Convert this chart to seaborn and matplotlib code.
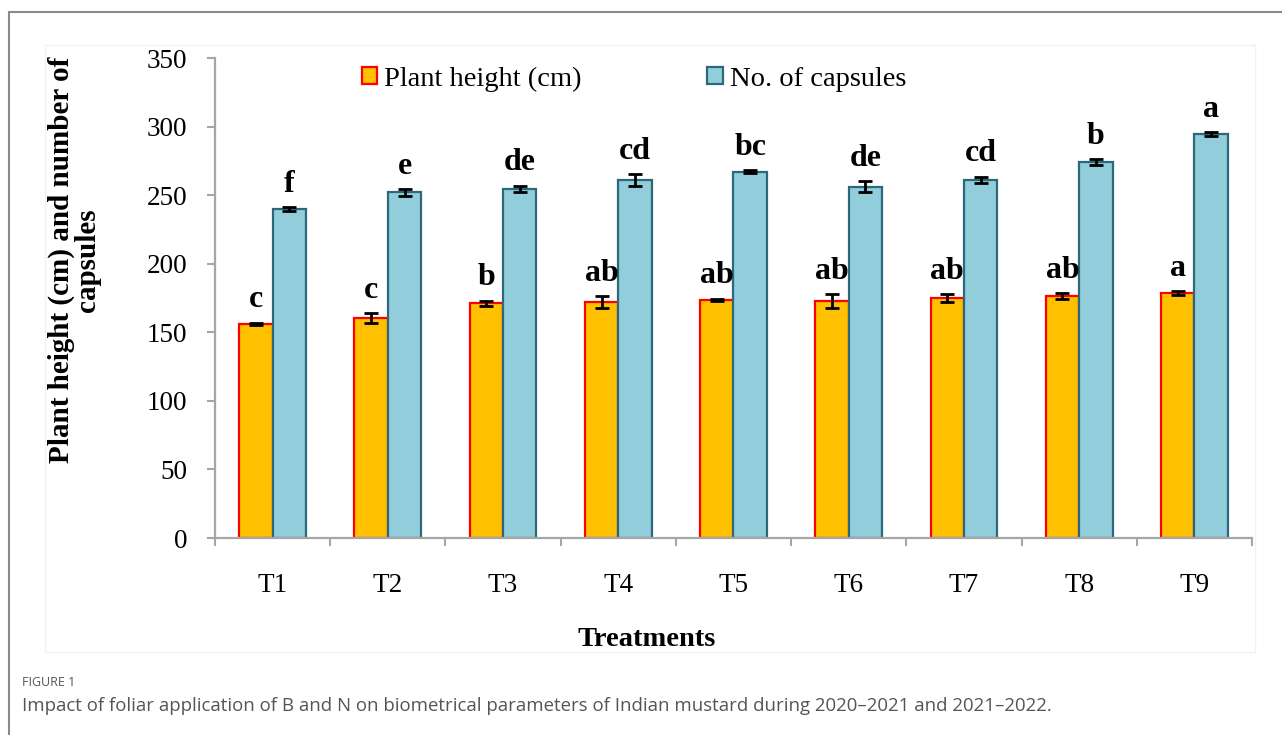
import seaborn as sns
import matplotlib.pyplot as plt
import pandas as pd
import numpy as np
from matplotlib.patches import Patch, Rectangle
from matplotlib.lines import Line2D

# data
treatments = ["T1", "T2", "T3", "T4", "T5", "T6", "T7", "T8", "T9"]
plant_height = [156, 160.5, 171, 172, 173.5, 173, 175, 176.5, 178.5]
height_se = [1.0, 3.5, 2.0, 4.5, 1.0, 5.0, 3.0, 2.0, 1.5]
capsules = [240, 252, 254.5, 261, 267, 256, 261, 274, 294.5]
capsules_se = [1.5, 2.5, 2.5, 4.5, 1.0, 4.0, 2.5, 2.0, 1.5]
height_letters = ["c", "c", "b", "ab", "ab", "ab", "ab", "ab", "a"]
capsule_letters = ["f", "e", "de", "cd", "bc", "de", "cd", "b", "a"]
series = ["Plant height (cm)", "No. of capsules"]

df = pd.DataFrame({
    "Treatment": treatments * 2,
    "Parameter": [series[0]] * 9 + [series[1]] * 9,
    "Value": plant_height + capsules,
})

sns.set_theme(style="white")
plt.rcParams['font.family'] = ['Liberation Serif', 'DejaVu Serif']
plt.rcParams['text.color'] = 'black'
plt.rcParams['xtick.labelcolor'] = 'black'
plt.rcParams['ytick.labelcolor'] = 'black'

fill = ["#FFC000", "#92CDDC"]
edge = ["#FF0000", "#2C6878"]

fig = plt.figure(figsize=(12.82, 7.35), dpi=100)
ax = fig.add_axes([215/1282, 1-538/735, (1252-215)/1282, (538-58)/735])

sns.barplot(data=df, x="Treatment", y="Value", hue="Parameter", palette=fill,
            width=0.58, errorbar=None, saturation=1, ax=ax)

errs = [height_se, capsules_se]
letters = [height_letters, capsule_letters]
vals = [plant_height, capsules]
bar_groups = list(ax.containers)
for i, cont in enumerate(bar_groups):
    xs = []
    for p in cont.patches:
        p.set_edgecolor(edge[i])
        p.set_linewidth(1.6)
        xs.append(p.get_x() + p.get_width() / 2)
    ax.errorbar(xs, vals[i], yerr=errs[i], fmt="none", ecolor="black",
                elinewidth=2, capsize=5, capthick=2, zorder=5)
    for x, v, e, t in zip(xs, vals[i], errs[i], letters[i]):
        ax.annotate(t, xy=(x, v + e), xytext=(0, 11), textcoords="offset points",
                    ha="center", va="baseline", fontsize=23, fontweight="bold",
                    color="black")

ax.set_ylim(0, 350)
ax.set_xlim(-0.5, 8.5)
ax.set_yticks(range(0, 351, 50))
ax.set_xticks(np.arange(-0.5, 9, 1), minor=True)
ax.set_xlabel("")
ax.set_ylabel("")
for s in ["top", "right"]:
    ax.spines[s].set_visible(False)
for s in ["left", "bottom"]:
    ax.spines[s].set_color("#A6A6A6")
    ax.spines[s].set_linewidth(1.6)
ax.tick_params(axis="y", which="major", left=True, length=6, width=1.5,
               color="#A6A6A6", labelsize=19.5, pad=14, labelcolor="black")
ax.tick_params(axis="x", which="major", bottom=False, labelsize=19.5, pad=19,
               labelcolor="black")
ax.tick_params(axis="x", which="minor", bottom=True, length=6, width=1.5,
               color="#A6A6A6")

ax.legend(handles=[Patch(facecolor=fill[0], edgecolor=edge[0], linewidth=1.6),
                   Patch(facecolor=fill[1], edgecolor=edge[1], linewidth=1.6)],
          labels=series, loc="upper center", bbox_to_anchor=(0.404, 1.035),
          ncol=2, frameon=False, fontsize=20.5, handlelength=0.55,
          handleheight=0.55, handletextpad=0.25, columnspacing=4.4,
          labelcolor="black")

fig.text(74/1282, 1-260/735, "Plant height (cm) and number of\ncapsules",
         rotation=90, ha="center", va="center", fontsize=21,
         fontweight="bold", linespacing=0.95, color="black")
fig.text(647/1282, 1-640/735, "Treatments", ha="center", va="center",
         fontsize=20.5, fontweight="bold", color="black")

# faint chart area box and outer frame
fig.patches.append(Rectangle((45/1282, 1-652/735), 1210/1282, 607/735,
                             transform=fig.transFigure, fill=False,
                             edgecolor="#F2F2F2", linewidth=1, zorder=0))
fig.lines.append(Line2D([9/1282, 9/1282], [0, 1-12/735], transform=fig.transFigure,
                        color="#8A8A8A", linewidth=1.5))
fig.lines.append(Line2D([9/1282, 1], [1-12/735, 1-12/735], transform=fig.transFigure,
                        color="#8A8A8A", linewidth=1.5))

fig.text(22/1282, 1-683/735, "FIGURE 1", ha="left", va="center", fontsize=9,
         color="#555555", family=["Open Sans", "DejaVu Sans"])
fig.text(22/1282, 1-706/735,
         "Impact of foliar application of B and N on biometrical parameters of Indian mustard during 2020\u20132021 and 2021\u20132022.",
         ha="left", va="center", fontsize=13.4, color="#555555",
         family=["Open Sans", "DejaVu Sans"])

fig.savefig("out.png", dpi=100)
